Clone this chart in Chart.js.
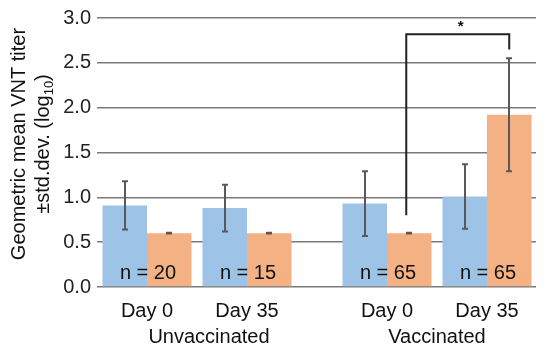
<!DOCTYPE html>
<html>
<head>
<meta charset="utf-8">
<script src="https://cdn.jsdelivr.net/npm/chart.js@4.4.1/dist/chart.umd.min.js"></script>
<style>
  html, body { margin: 0; padding: 0; background: #fff; }
  #wrap { width: 550px; height: 354px; position: relative; }
</style>
</head>
<body>
<div id="wrap"><canvas id="chart"></canvas></div>
<script>
// data
var days = ['Day 0', 'Day 35', 'Day 0', 'Day 35'];
var cohorts = ['Unvaccinated', 'Vaccinated'];
var cohortOf = [0, 0, 1, 1];
var blueMeans = [0.91, 0.88, 0.93, 1.01];
var blueSD = [0.27, 0.26, 0.36, 0.36];
var orangeMeans = [0.60, 0.60, 0.60, 1.92];
var orangeSD = [0.004, 0.004, 0.004, 0.63];
var nLabels = ['n = 20', 'n = 15', 'n = 65', 'n = 65'];
var yTicks = [0, 0.5, 1.0, 1.5, 2.0, 2.5, 3.0];
var sig = { from: 2, to: 3, leftY: 0.80, topY: 2.82, rightY: 2.65, text: '*' };

var FONT = "'Liberation Sans', Arial, sans-serif";
var cohortGap = 0.4;

function xPos(i) {
    return i + (cohortOf[i] ? cohortGap : 0);
}

function points(values) {
    return values.map(function (v, i) { return { x: xPos(i), y: v }; });
}

var extras = {
    id: 'extras',
    afterDatasetsDraw: function (chart) {
        var ctx = chart.ctx;
        var xs = chart.scales.x, ys = chart.scales.y;
        var area = chart.chartArea;
        var sds = [blueSD, orangeSD];
        var means = [blueMeans, orangeMeans];

        // error bars
        ctx.save();
        ctx.strokeStyle = '#595959';
        ctx.lineWidth = 2;
        [0, 1].forEach(function (d) {
            chart.getDatasetMeta(d).data.forEach(function (el, i) {
                var x = Math.round(el.x);
                var top = ys.getPixelForValue(means[d][i] + sds[d][i]);
                var bot = ys.getPixelForValue(means[d][i] - sds[d][i]);
                ctx.beginPath();
                ctx.moveTo(x, top);
                ctx.lineTo(x, bot);
                ctx.moveTo(x - 3, top);
                ctx.lineTo(x + 3, top);
                ctx.moveTo(x - 3, bot);
                ctx.lineTo(x + 3, bot);
                ctx.stroke();
            });
        });
        ctx.restore();

        // n labels
        ctx.save();
        ctx.fillStyle = '#111';
        ctx.font = '20px ' + FONT;
        ctx.textAlign = 'center';
        ctx.textBaseline = 'alphabetic';
        nLabels.forEach(function (t, i) {
            ctx.fillText(t, xs.getPixelForValue(xPos(i)) + 1, area.bottom - 8);
        });
        ctx.restore();

        // significance bracket
        var x1 = chart.getDatasetMeta(1).data[sig.from].x - 3;
        var x2 = chart.getDatasetMeta(1).data[sig.to].x;
        var yt = ys.getPixelForValue(sig.topY);
        ctx.save();
        ctx.strokeStyle = '#222';
        ctx.lineWidth = 2;
        ctx.beginPath();
        ctx.moveTo(x1, ys.getPixelForValue(sig.leftY));
        ctx.lineTo(x1, yt);
        ctx.lineTo(x2, yt);
        ctx.lineTo(x2, ys.getPixelForValue(sig.rightY));
        ctx.stroke();
        ctx.fillStyle = '#111';
        ctx.font = 'bold 15px ' + FONT;
        ctx.textAlign = 'center';
        ctx.fillText(sig.text, (x1 + x2) / 2 + 3, yt - 3);
        ctx.restore();

        // cohort labels
        ctx.save();
        ctx.fillStyle = '#111';
        ctx.font = '20px ' + FONT;
        ctx.textAlign = 'center';
        ctx.textBaseline = 'alphabetic';
        var shift = [12, 0];
        cohorts.forEach(function (c, k) {
            var idx = [];
            cohortOf.forEach(function (g, i) { if (g === k) idx.push(i); });
            var a = xs.getPixelForValue(xPos(idx[0]));
            var b = xs.getPixelForValue(xPos(idx[idx.length - 1]));
            ctx.fillText(c, (a + b) / 2 + shift[k], 343);
        });
        ctx.restore();

        // y axis title, two rotated lines
        ctx.save();
        ctx.fillStyle = '#111';
        ctx.textAlign = 'left';
        ctx.textBaseline = 'alphabetic';
        var cy = 144;
        ctx.translate(25, cy);
        ctx.rotate(-Math.PI / 2);
        ctx.font = '20px ' + FONT;
        var l1 = 'Geometric mean VNT titer';
        ctx.fillText(l1, -ctx.measureText(l1).width / 2, 0);
        ctx.restore();

        ctx.save();
        ctx.fillStyle = '#111';
        ctx.textBaseline = 'alphabetic';
        ctx.translate(49, cy);
        ctx.rotate(-Math.PI / 2);
        var p1 = '\u00b1std.dev. (log', p2 = '10', p3 = ')';
        ctx.font = '20px ' + FONT;
        var w1 = ctx.measureText(p1).width, w3 = ctx.measureText(p3).width;
        ctx.font = '13px ' + FONT;
        var w2 = ctx.measureText(p2).width;
        var sx = -(w1 + w2 + w3) / 2;
        ctx.font = '20px ' + FONT;
        ctx.fillText(p1, sx, 0);
        ctx.font = '13px ' + FONT;
        ctx.fillText(p2, sx + w1, 4);
        ctx.font = '20px ' + FONT;
        ctx.fillText(p3, sx + w1 + w2, 0);
        ctx.restore();
    }
};

new Chart(document.getElementById('chart'), {
    type: 'bar',
    data: {
        datasets: [
            { label: 'blue', data: points(blueMeans), backgroundColor: '#9dc3e6', borderWidth: 0 },
            { label: 'orange', data: points(orangeMeans), backgroundColor: '#f4b183', borderWidth: 0 }
        ]
    },
    options: {
        responsive: true,
        maintainAspectRatio: false,
        animation: false,
        devicePixelRatio: 1,
        layout: { padding: { top: 15, right: 14, left: 0, bottom: 0 } },
        datasets: { bar: { categoryPercentage: 0.89, barPercentage: 1.0 } },
        plugins: { legend: { display: false }, tooltip: { enabled: false } },
        scales: {
            x: {
                type: 'linear',
                offset: false,
                min: -0.5,
                max: 3.89,
                grid: { display: false, offset: false },
                border: { display: false },
                afterBuildTicks: function (scale) {
                    scale.ticks = days.map(function (d, i) { return { value: xPos(i) }; });
                },
                afterFit: function (scale) { scale.height = 67; },
                ticks: {
                    autoSkip: false,
                    maxRotation: 0,
                    padding: 4,
                    color: '#111',
                    font: { family: FONT, size: 20 },
                    callback: function (v, i) { return days[i]; }
                }
            },
            y: {
                min: 0,
                max: 3,
                afterBuildTicks: function (scale) {
                    scale.ticks = yTicks.map(function (v) { return { value: v }; });
                },
                afterFit: function (scale) { scale.width = 97; },
                grid: { color: '#7a7a7a', lineWidth: 1.5, drawTicks: false },
                border: { display: false },
                ticks: {
                    padding: 6,
                    color: '#222',
                    font: { family: FONT, size: 20 },
                    callback: function (v) { return v.toFixed(1); }
                }
            }
        }
    },
    plugins: [extras]
});
</script>
</body>
</html>
